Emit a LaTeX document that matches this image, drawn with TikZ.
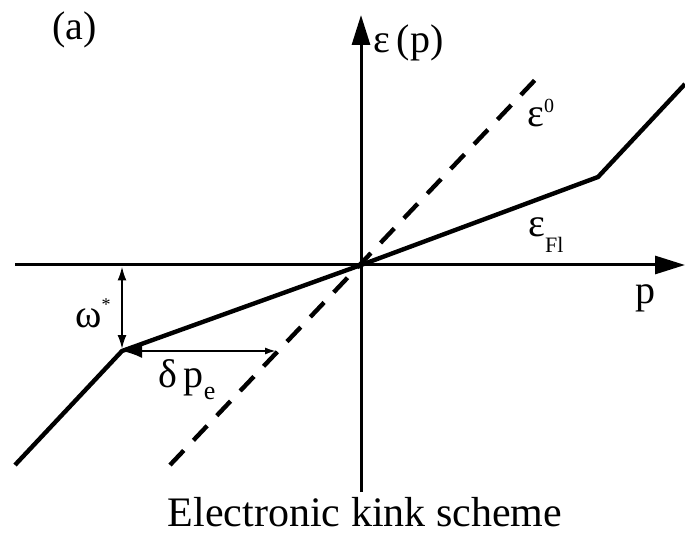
\documentclass[tikz,border=0pt]{standalone}
\usepackage{fontspec}
\setmainfont{Liberation Serif}
\usepackage{tikz}
\usetikzlibrary{arrows.meta, positioning, calc}

\begin{document}
\begin{tikzpicture}[
  x=0.5pt, y=-0.5pt,
  axis/.style={line width=1.5pt, -{Triangle[length=15pt, width=9pt]}},
  band/.style={line width=2.2pt},
  bare/.style={line width=2.2pt, dash pattern=on 10pt off 7pt},
  lbl/.style={inner sep=0pt, anchor=base west, font=\fontsize{20}{20}\selectfont},
]
\useasboundingbox (0,0) rectangle (685,534);

\coordinate (O)      at (361,265);
\coordinate (xL)     at (15,265);
\coordinate (xR)     at (685,265);
\coordinate (yB)     at (361,492);
\coordinate (yT)     at (361,15);
\coordinate (solidL) at (15,465);
\coordinate (kinkL)  at (122,351);
\coordinate (kinkR)  at (598,177);
\coordinate (solidR) at (685,84);
\coordinate (dashL)  at (170,465);
\coordinate (dashR)  at (535,80);
\coordinate (dpE)    at (277,351);

\draw[axis] (xL) -- (xR);
\draw[axis] (yB) -- (yT);
\draw[bare] (dashL) -- (dashR);
\draw[band] (solidL) -- (kinkL) -- (O) -- (kinkR) -- (solidR);

\draw[line width=1pt, {Latex[length=7pt, width=4.5pt]}-{Latex[length=7pt, width=4.5pt]}]
  ([yshift=-0.75pt]kinkL |- O) -- ([yshift=1pt]kinkL);
\draw[line width=1.2pt, {Latex[length=10pt, width=7pt]}-{Latex[length=6pt, width=3.5pt]}]
  (kinkL) -- (dpE);

\node[lbl] (lblA)   at (52,40)   {(a)};
\node[lbl] (lblE)   at (373,53)  {ε\,(p)};
\node[lbl] (lblE0)  at (527,127) {ε\raisebox{7pt}{\fontsize{10}{10}\selectfont 0}};
\node[lbl] (lblEF)  at (528,237) {ε\raisebox{-8pt}{\fontsize{11}{11}\selectfont Fl}};
\node[lbl] (lblP)   at (635,303) {p};
\node[lbl] (lblW)   at (75,328)  {ω\raisebox{9pt}{\fontsize{9}{9}\selectfont *}};
\node[lbl] (lblDp)  at (158,387) {δ\,p\raisebox{-6pt}{\fontsize{13}{13}\selectfont e}};
\node[inner sep=0pt, anchor=base, font=\fontsize{21}{21}\selectfont] (cap) at (365,526)
  {Electronic kink scheme};
\end{tikzpicture}
\end{document}
